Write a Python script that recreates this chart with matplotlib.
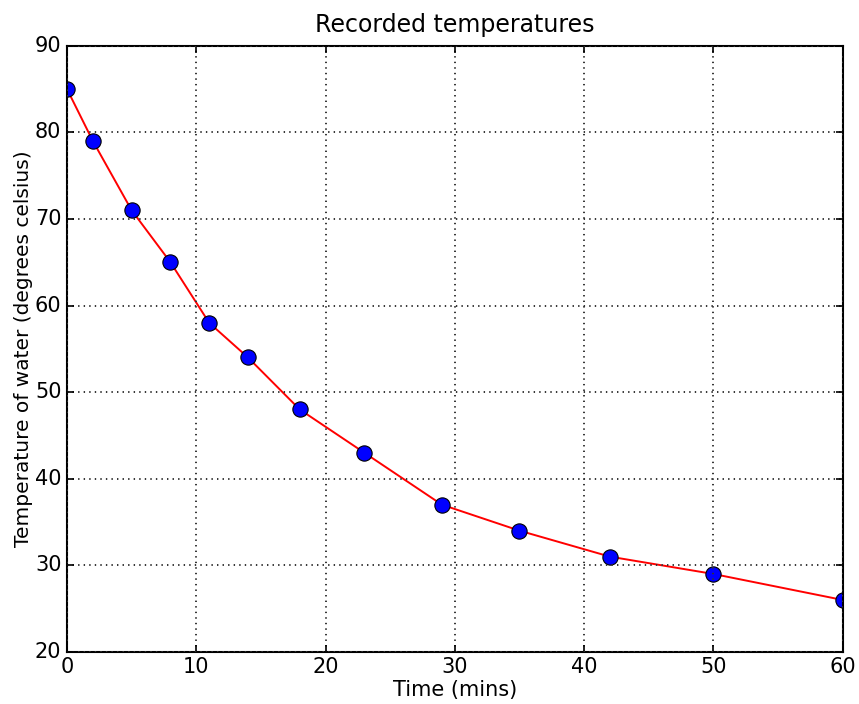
import matplotlib
matplotlib.use("Agg")
import matplotlib.pyplot as plt

plt.style.use("classic")

time_mins = [0, 2, 5, 8, 11, 14, 18, 23, 29, 35, 42, 50, 60]
temperature_c = [85, 79, 71, 65, 58, 54, 48, 43, 37, 34, 31, 29, 26]

fig = plt.figure(figsize=(8.59, 7.04), dpi=100)
ax = fig.add_axes([0.078, 0.074, 0.903, 0.861])

ax.plot(time_mins, temperature_c, "r-", linewidth=1.4)
ax.plot(time_mins, temperature_c, "bo", markersize=11, markeredgecolor="black",
        markeredgewidth=0.8)

ax.set_xlim(0, 60)
ax.set_ylim(20, 90)
ax.grid(True, linestyle=":", linewidth=1.4, color="#333333")
ax.set_title("Recorded temperatures", fontsize=17, pad=10)
ax.set_xlabel("Time (mins)", fontsize=15, labelpad=2)
ax.set_ylabel("Temperature of water (degrees celsius)", fontsize=14.5, labelpad=1)
ax.tick_params(labelsize=15, width=1.2, length=5)
for spine in ax.spines.values():
    spine.set_linewidth(1.5)

fig.savefig("out.png", dpi=100)
